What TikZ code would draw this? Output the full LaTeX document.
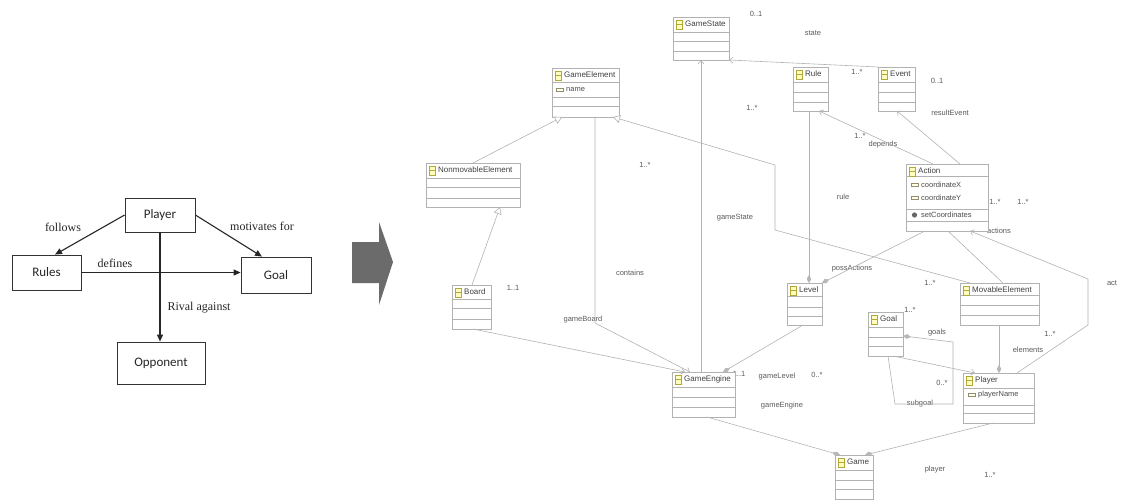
\documentclass[tikz,border=0pt]{standalone}
\usepackage{fontspec}
\setmainfont{Liberation Sans}
\newfontfamily\conceptfont{Carlito}
\newfontfamily\relfont{Liberation Serif}
\usetikzlibrary{arrows.meta}

\tikzset{
  concept/.style={draw=black!80, line width=0.8pt, inner sep=0pt, text=black!85,
    font=\conceptfont\fontsize{13}{15}\selectfont},
  rel/.style={draw=black!85, line width=1.1pt, -{Triangle[length=7pt,width=6pt]}},
  rellabel/.style={inner sep=0pt, text=black!85, font=\relfont\fontsize{12}{14}\selectfont},
  bigarrow/.style={fill=black!58},
  classbox/.style={draw=gray!60, fill=white, line width=0.6pt, inner sep=0pt, outer sep=0pt},
  classline/.style={draw=gray!60, line width=0.6pt},
  classtitle/.style={anchor=west, inner sep=0pt, text=black!75, font=\fontsize{8}{9}\selectfont},
  classattr/.style={anchor=west, inner sep=0pt, text=black!70, font=\fontsize{7.5}{9}\selectfont},
  classicon/.style={draw=olive!70, fill=yellow!25, line width=0.5pt},
  attricon/.style={draw=gray!80!olive, fill=yellow!10, line width=0.4pt},
  umllabel/.style={inner sep=0pt, text=black!65, font=\fontsize{7.5}{9}\selectfont},
  gen/.style={classline, -{Triangle[open, length=7pt, width=8pt, fill=white]}},
  nav/.style={classline, -{Straight Barb[length=3.5pt, width=6pt]}},
  comp/.style={classline, -{Diamond[length=8pt, width=4.5pt, fill=gray!55]}},
}

% class box: name, x, y, width, height, separator offsets
\newcommand{\umlclass}[6]{%
  \node[classbox, minimum width=#4pt, minimum height=#5pt, anchor=north west] (#1) at (#2,#3) {};
  \foreach \s in {#6}
    \draw[classline] ([shift={(0,\s)}]#1.north west) -- ([shift={(0,\s)}]#1.north east);
  \draw[classicon] ([shift={(3,3)}]#1.north west) rectangle ++(6,9);
  \draw[classicon] ([shift={(3,7.5)}]#1.north west) -- ++(6,0);
  \node[classtitle] (#1-title) at ([shift={(12,7)}]#1.north west) {#1};
}

\begin{document}
\begin{tikzpicture}[x=1pt, y=-1pt]
\useasboundingbox (0,0) rectangle (1121,500);

% concept map
\node[concept, minimum width=70pt, minimum height=34pt] (cPlayer) at (160,215) {Player};
\node[concept, minimum width=69pt, minimum height=35pt] (cRules) at (46.5,272.5) {Rules};
\node[concept, minimum width=70pt, minimum height=36pt] (cGoal) at (276,275) {Goal};
\node[concept, minimum width=88pt, minimum height=42pt] (cOpponent) at (161,363) {Opponent};

\draw[rel] (cPlayer.west) -- ([xshift=8.5pt]cRules.north);
\draw[rel] (cPlayer.east) -- ([xshift=-14pt]cGoal.north);
\draw[rel] (cRules.east) -- (cRules.east -| cGoal.west);
\draw[rel] (cPlayer.south) -- (cPlayer.south |- cOpponent.north);

\node[rellabel] (lFollows) at (63,227) {follows};
\node[rellabel] (lMotivates) at (262,226) {motivates for};
\node[rellabel] (lDefines) at (115,263) {defines};
\node[rellabel] (lRival) at (199,308) {Rival against};

% big arrow
\fill[bigarrow] (352,242) -- (379,242) -- (379,222) -- (393,262) -- (379,305)
  -- (379,283) -- (352,283) -- cycle;

% UML labels
\foreach \t/\x/\y [count=\i] in {0..1/756/14, state/813/33, 1..*/857/72, 0..1/937/81,
    resultEvent/950/113, 1..*/752/108, 1..*/860/136, depends/883/145, 1..*/645/165,
    rule/843/197, 1..*/995/202, 1..*/1023/202, gameState/735/218, actions/999/231,
    contains/630/273, possActions/852/269, act/1112/283, 1..*/930/283, 1..1/513/288,
    1..*/910/310, gameBoard/583/320, goals/937/333, 1..*/1050/334, elements/1028/350,
    gameLevel/777/377, 0..*/817/375, 0..*/942/383, subgoal/920/404, gameEngine/782/406,
    1..1/739/374, player/935/470, 1..*/990/475}
  \node[umllabel] (uml\i) at (\x,\y) {\t};

% classes
\umlclass{GameState}{673}{17}{56}{43}{15,24,34}
\umlclass{GameElement}{552}{68}{67}{49}{14,29,38}
\umlclass{NonmovableElement}{426}{163}{94}{44}{15,24,35}
\umlclass{Rule}{793}{67}{35}{44}{15,25,35}
\umlclass{Event}{878}{67}{37}{44}{15,25,35}
\umlclass{Action}{906}{164}{82}{67}{12,45,57}
\umlclass{Board}{452}{285}{39}{44}{14,23,34}
\umlclass{Level}{787}{283}{35}{42}{13,24,33}
\umlclass{MovableElement}{960}{283}{79}{42}{12,22,32}
\umlclass{Goal}{868}{312}{35}{44}{15,25,34}
\umlclass{GameEngine}{672}{372}{63}{45}{15,25,35}
\umlclass{Player}{963}{373}{71}{50}{15,32,40}
\umlclass{Game}{835}{455}{38}{44}{15,25,34}

% attributes and operations
\draw[attricon] ([shift={(4,20.5)}]GameElement.north west) rectangle ++(7,3);
\node[classattr] (GameElement-name) at ([shift={(14,22)}]GameElement.north west) {name};
\draw[attricon] ([shift={(5,19.5)}]Action.north west) rectangle ++(7,3);
\node[classattr] (Action-x) at ([shift={(15,21)}]Action.north west) {coordinateX};
\draw[attricon] ([shift={(5,32.5)}]Action.north west) rectangle ++(7,3);
\node[classattr] (Action-y) at ([shift={(15,34)}]Action.north west) {coordinateY};
\fill[black!60] ([shift={(8.5,51)}]Action.north west) circle (2.6pt);
\node[classattr] (Action-set) at ([shift={(15,51)}]Action.north west) {setCoordinates};
\draw[attricon] ([shift={(5,20.5)}]Player.north west) rectangle ++(7,3);
\node[classattr] (Player-name) at ([shift={(15,22)}]Player.north west) {playerName};

% generalizations
\draw[gen] ([shift={(20,0)}]Board.north west) -- ([shift={(74,0)}]NonmovableElement.south west);
\draw[gen] ([shift={(47,0)}]NonmovableElement.north west) -- ([shift={(10,0)}]GameElement.south west);
\coordinate (bendMovA) at (775,230);
\coordinate (bendMovB) at (775,165);
\draw[gen] ([shift={(10,0)}]MovableElement.north west) -- (bendMovA) -- (bendMovB)
  -- ([shift={(61,0)}]GameElement.south west);

% references
\coordinate (bendBoard) at (595,323);
\draw[nav] ([shift={(43,0)}]GameElement.south west) -- (bendBoard) -- ([shift={(18,0)}]GameEngine.north west);
\draw[nav] ([shift={(21,0)}]Board.south west) -- ([shift={(13,0)}]GameEngine.north west);
\draw[nav] ([shift={(29,0)}]GameEngine.north west) -- ([shift={(28,0)}]GameState.south west);
\draw[comp] ([shift={(16,0)}]Level.south west) -- ([shift={(51,0)}]GameEngine.north west);
\draw[nav] (Event.north west) -- (GameState.south east);
\draw[comp] ([shift={(16,0)}]Rule.south west) -- ([shift={(22,0)}]Level.north west);
\draw[nav] ([shift={(27,0)}]Action.north west) -- ([shift={(26,0)}]Rule.south west);
\draw[nav] ([shift={(54,0)}]Action.north west) -- ([shift={(19,0)}]Event.south west);
\draw[comp] ([shift={(19,0)}]Action.south west) -- (Level.north east);
\draw[classline] ([shift={(42,0)}]Action.south west) -- ([shift={(43,0)}]MovableElement.north west);
\coordinate (bendActA) at (1088,279);
\coordinate (bendActB) at (1088,325);
\draw[nav] ([shift={(54,0)}]Player.north west) -- (bendActB) -- (bendActA)
  -- ([shift={(64,0)}]Action.south west);
\draw[comp] ([shift={(39,0)}]MovableElement.south west) -- ([shift={(36,0)}]Player.north west);
\draw[nav] ([shift={(25,0)}]Goal.south west) -- ([shift={(12,0)}]Player.north west);
\coordinate (loopA) at (895,404);
\coordinate (loopB) at (953,404);
\coordinate (loopC) at (953,342);
\draw[comp] ([shift={(20,0)}]Goal.south west) -- (loopA) -- (loopB) -- (loopC)
  -- ([shift={(0,24)}]Goal.north east);
\draw[comp] ([shift={(35,0)}]GameEngine.south west) -- ([shift={(5,0)}]Game.north west);
\draw[comp] ([shift={(30,0)}]Player.south west) -- ([shift={(30,0)}]Game.north west);
\end{tikzpicture}
\end{document}
